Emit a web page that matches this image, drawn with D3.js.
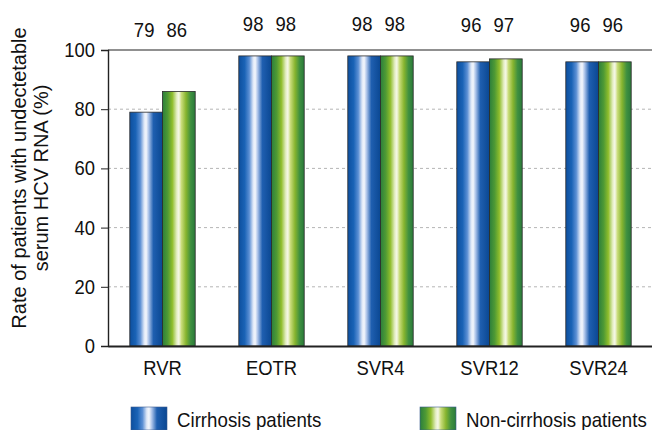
<!DOCTYPE html>
<html>
<head>
<meta charset="utf-8">
<script src="https://cdn.jsdelivr.net/npm/d3@7"></script>
<style>
  html, body { margin: 0; padding: 0; background: #fff; }
  svg text { font-family: "Liberation Sans", Arial, sans-serif; fill: #111; }
</style>
</head>
<body>
<svg id="chart" width="652" height="430"></svg>
<script>
// Response milestones and rates (%) of undetectable HCV RNA
const categories = ["RVR", "EOTR", "SVR4", "SVR12", "SVR24"];
const seriesNames = ["Cirrhosis patients", "Non-cirrhosis patients"];
const cirrhosis = [79, 98, 98, 96, 96];
const nonCirrhosis = [86, 98, 98, 97, 96];
const yTicks = [0, 20, 40, 60, 80, 100];
const yTitle = ["Rate of patients with undectetable", "serum HCV RNA (%)"];

const svg = d3.select("#chart");
const W = 652, H = 430;
const m = { left: 108, top: 50, right: -1, bottom: 84 };
const plotW = W - m.left - m.right;
const plotH = H - m.top - m.bottom;

// Squeeze a text horizontally to mimic a narrow typeface
function condense(sel, k) {
  sel.each(function () {
    const w = this.getComputedTextLength();
    d3.select(this).attr("textLength", w * k).attr("lengthAdjust", "spacingAndGlyphs");
  });
}

// Gradient fills for the cylinder-look bars
const defs = svg.append("defs");
function gradient(id, stops) {
  const g = defs.append("linearGradient").attr("id", id)
    .attr("x1", "0%").attr("x2", "100%").attr("y1", "0%").attr("y2", "0%");
  stops.forEach(([o, c]) => g.append("stop").attr("offset", o).attr("stop-color", c));
}
gradient("gBlue", [
  [0, "#0d4f9e"], [0.18, "#1a63b6"], [0.32, "#5b8fd4"], [0.44, "#dfe8f7"],
  [0.5, "#f4f7fc"], [0.58, "#a9c1e8"], [0.72, "#1f5fb0"], [1, "#0a4792"]
]);
gradient("gGreen", [
  [0, "#2b7f3c"], [0.16, "#4f9a34"], [0.3, "#8fbd2c"], [0.44, "#e6efc6"],
  [0.5, "#f6f8e8"], [0.58, "#c9dc7a"], [0.72, "#86b42e"], [0.86, "#3f9040"], [1, "#2a7a3a"]
]);
const fills = ["url(#gBlue)", "url(#gGreen)"];

const x = d3.scaleBand().domain(categories)
  .range([m.left, m.left + plotW]).paddingInner(0.4).paddingOuter(0.2);
const xs = d3.scaleBand().domain([0, 1]).range([0, x.bandwidth()]);
const y = d3.scaleLinear().domain([0, 100]).range([m.top + plotH, m.top]);

// Dashed background gridlines
svg.append("g").selectAll("line")
  .data(yTicks.filter(t => t > 0 && t < 100))
  .join("line")
  .attr("x1", m.left).attr("x2", m.left + plotW)
  .attr("y1", d => y(d)).attr("y2", d => y(d))
  .attr("stroke", "#b5b5b5").attr("stroke-width", 1)
  .attr("stroke-dasharray", "3,3");

// Bars
const data = categories.map((c, i) => ({ c, vals: [cirrhosis[i], nonCirrhosis[i]] }));
const groups = svg.append("g").selectAll("g").data(data).join("g")
  .attr("transform", d => `translate(${x(d.c)},0)`);
groups.selectAll("rect")
  .data(d => d.vals.map((v, k) => ({ v, k })))
  .join("rect")
  .attr("x", d => xs(d.k))
  .attr("width", xs.bandwidth())
  .attr("y", d => y(d.v))
  .attr("height", d => y(0) - y(d.v))
  .attr("fill", d => fills[d.k])
  .attr("stroke", "#2a2a2a").attr("stroke-width", 0.8);

// Value labels above the frame
const vals = groups.selectAll("text.val")
  .data(d => d.vals.map((v, k) => ({ v, k, top: d3.max(d.vals) })))
  .join("text").attr("class", "val")
  .attr("x", d => xs(d.k) + xs.bandwidth() / 2 - 2)
  .attr("y", d => 30 + (100 - d.top) * 0.5)
  .attr("text-anchor", "middle")
  .attr("font-size", 21)
  .text(d => d.v);
condense(vals, 0.88);

// Frame: top line and axes
svg.append("line")
  .attr("x1", m.left).attr("x2", m.left + plotW)
  .attr("y1", y(100)).attr("y2", y(100))
  .attr("stroke", "#222").attr("stroke-width", 1.2);

const yAxis = d3.axisLeft(y).tickValues(yTicks).tickSize(7).tickPadding(6);
const gy = svg.append("g").attr("transform", `translate(${m.left},0)`).call(yAxis);
gy.select(".domain").attr("stroke", "#222").attr("stroke-width", 1.4);
gy.selectAll(".tick line").attr("stroke", "#222");
gy.selectAll(".tick text").attr("font-size", 20).attr("fill", "#111")
  .attr("font-family", "Liberation Sans, Arial, sans-serif");
condense(gy.selectAll(".tick text"), 0.92);

const xAxis = d3.axisBottom(x).tickSize(0).tickPadding(15);
const gx = svg.append("g").attr("transform", `translate(0,${y(0)})`).call(xAxis);
gx.select(".domain").attr("stroke", "#222").attr("stroke-width", 2);
gx.selectAll(".tick text").attr("font-size", 20).attr("fill", "#111")
  .attr("font-family", "Liberation Sans, Arial, sans-serif");
condense(gx.selectAll(".tick text"), 0.92);

// Y axis title (two lines)
const yt = svg.append("text")
  .attr("transform", `translate(26,${m.top + plotH / 2 - 20}) rotate(-90)`)
  .attr("text-anchor", "middle").attr("font-size", 20);
yTitle.forEach((t, i) => yt.append("tspan").attr("x", 0).attr("dy", i === 0 ? 0 : 22).text(t));

// Legend
const legendX = [131, 420];
const leg = svg.append("g").selectAll("g").data(seriesNames).join("g")
  .attr("transform", (d, i) => `translate(${legendX[i]},407)`);
leg.append("rect").attr("width", 36).attr("height", 23)
  .attr("fill", (d, i) => fills[i]).attr("stroke", "#3a5a90").attr("stroke-width", 0.6);
const legText = leg.append("text").attr("x", 46).attr("y", 20).attr("font-size", 21).text(d => d);
condense(legText, 0.89);
</script>
</body>
</html>
